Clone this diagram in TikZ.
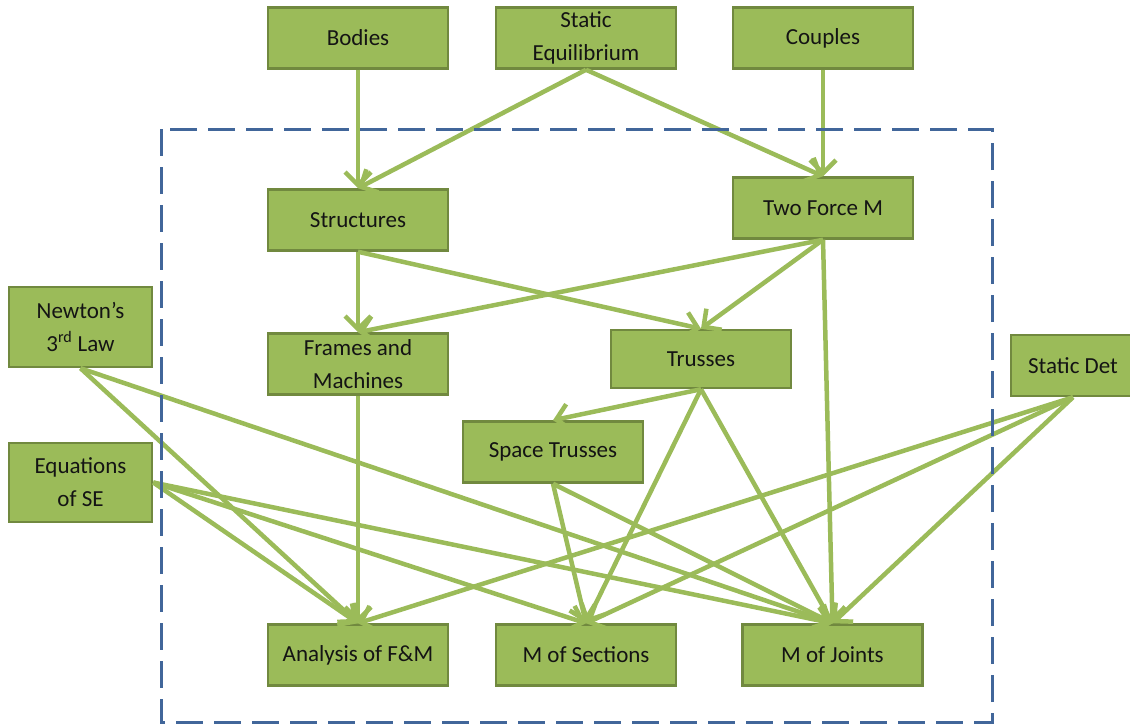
\documentclass[tikz,border=0pt]{standalone}
\usepackage{fontspec}
\setmainfont{Carlito}
\usetikzlibrary{arrows.meta}
\definecolor{boxfill}{HTML}{9BBB59}
\definecolor{boxline}{HTML}{71893F}
\definecolor{framecol}{HTML}{41669A}
\definecolor{txt}{HTML}{141414}
\begin{document}
\begin{tikzpicture}[x=1pt,y=-1pt,
  box/.style={draw=boxline, line width=2.5pt, fill=boxfill,
    minimum width=180pt, minimum height=61pt, inner sep=2pt,
    align=center, text=txt, font=\fontsize{23}{33}\selectfont},
  link/.style={draw=boxfill, line width=4.5pt,
    -{Straight Barb[length=13pt,width=26pt]}},
  region/.style={draw=framecol, line width=3pt, dash pattern=on 27pt off 11pt}]
\useasboundingbox (0,0) rectangle (1130,725);

% concept boxes
\node[box] (bod) at (358,38) {Bodies};
\node[box] (seq) at (586,38) {Static\\Equilibrium};
\node[box] (cpl) at (823,38) {Couples};
\node[box] (str) at (358,220) {Structures};
\node[box] (tfm) at (823,208) {Two Force M};
\node[box] (fm)  at (358,364) {Frames and\\Machines};
\node[box, minimum height=58pt] (tr) at (701,359) {Trusses};
\node[box, minimum width=143pt, minimum height=80pt] (nw) at (80.5,327) {Newton’s\\3\textsuperscript{rd} Law};
\node[box, minimum width=143pt, minimum height=79pt] (eq) at (80.5,482.5) {Equations\\of SE};
\node[box, minimum width=124pt] (sd) at (1073,365.5) {Static Det};
\node[box] (st) at (553,452) {Space Trusses};
\node[box] (an) at (358,655) {Analysis of F\&M};
\node[box] (ms) at (586,655) {M of Sections};
\node[box] (mj) at (832.5,655) {M of Joints};

% dependencies
\draw[link] (bod.south) -- (str.north);
\draw[link] (seq.south) -- (str.north);
\draw[link] (seq.south) -- (tfm.north);
\draw[link] (cpl.south) -- (tfm.north);
\draw[link] (str.south) -- (fm.north);
\draw[link] (str.south) -- (tr.north);
\draw[link] (tfm.south) -- (fm.north);
\draw[link] (tfm.south) -- (tr.north);
\draw[link] (tfm.south) -- (mj.north);
\draw[link] (fm.south) -- (an.north);
\draw[link] (tr.south) -- (st.north);
\draw[link] (tr.south) -- (ms.north);
\draw[link] (tr.south) -- (mj.north);
\draw[link] (nw.south) -- (an.north);
\draw[link] (nw.south) -- (mj.north);
\draw[link] (eq.east) -- (an.north);
\draw[link] (eq.east) -- (ms.north);
\draw[link] (eq.east) -- (mj.north);
\draw[link] (st.south) -- (ms.north);
\draw[link] (st.south) -- (mj.north);
\draw[link] (sd.south) -- (an.north);
\draw[link] (sd.south) -- (ms.north);
\draw[link] (sd.south) -- (mj.north);

% dashed region around the structural topics
\draw[region] (161,129) rectangle (992,722);
\end{tikzpicture}
\end{document}
